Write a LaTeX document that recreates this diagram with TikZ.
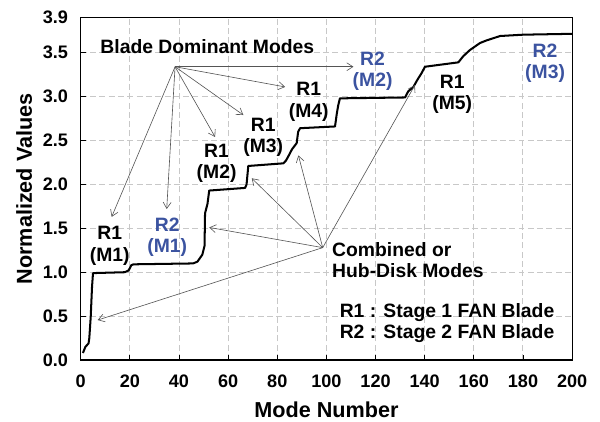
\documentclass[tikz,border=0pt]{standalone}
\usepackage{fontspec}
\setmainfont{Liberation Sans}
\usepackage{xcolor}
\usetikzlibrary{arrows.meta, positioning, calc}

\definecolor{stagetwo}{RGB}{59,83,160}
\definecolor{gridgray}{RGB}{200,200,200}
\definecolor{pointgray}{RGB}{85,85,85}

\begin{document}
\begin{tikzpicture}[x=0.04914cm, y=1.756cm,
    gridline/.style={gridgray, dash pattern=on 3.4pt off 1.9pt, line width=0.55pt},
    modelabel/.style={font=\fontsize{11}{12}\selectfont\bfseries, align=center, inner sep=0pt},
    ticklabel/.style={font=\fontsize{10.3}{12}\selectfont\bfseries, inner sep=0pt},
    axistitle/.style={font=\fontsize{12.3}{14}\selectfont\bfseries, inner sep=0pt},
    pointer/.style={pointgray, line width=0.35pt, -{Straight Barb[length=3.5pt,width=4.5pt]}}
]
    \useasboundingbox (-32.85,-0.695) rectangle (211.35,4.100);

    % Grid
    \foreach \x in {20,40,...,180}
        \draw [gridline] (\x,0) -- (\x,3.9);
    \foreach \y in {0.5,1.0,...,3.5}
        \draw [gridline] (0,\y) -- (200,\y);

    % Frame and ticks
    \draw [line width=0.7pt] (0,0) rectangle (200,3.9);
    \foreach \x in {20,40,...,180}
        \draw [line width=0.5pt] (\x,0) -- ++(0,0.06);
    \foreach \y in {0.5,1.0,...,3.5}
        \draw [line width=0.5pt] (0,\y) -- ++(2,0);

    % Tick labels
    \foreach \x in {0,20,...,200}
        \node [ticklabel] (xl\x) at (\x,-0.239) {\x};
    \foreach \v [count=\i] in {0.0,0.5,1.0,1.5,2.0,2.5,3.0,3.5,3.9}
        \node [ticklabel, anchor=east] (yl\i) at (-5.05,\v) {\v};

    % Axis titles
    \node [axistitle, anchor=base] (xtitle) at (100,-0.66) {Mode Number};
    \node [axistitle, rotate=90, anchor=base] (ytitle) at (-19.9,1.95) {Normalized Values};

    % Normalized values
    \draw [line width=1.15pt, line join=round] (0.9,0.08) -- (1.9,0.15) -- (3.2,0.19) -- (3.5,0.25)
        -- (4.07,0.49) -- (4.6,0.83) -- (5.0,0.99) -- (17.9,1.0) -- (19.5,1.02) -- (20.6,1.08)
        -- (21.5,1.09) -- (45.7,1.10) -- (47.5,1.12) -- (49.5,1.2) -- (50.4,1.3) -- (50.6,1.67)
        -- (51.6,1.78) -- (52.3,1.93) -- (66.9,1.96) -- (67.5,2.0) -- (68.2,2.21) -- (82.5,2.24)
        -- (83.5,2.27) -- (84.5,2.32) -- (86,2.40) -- (87.9,2.47) -- (88.5,2.6) -- (89.3,2.64)
        -- (103.5,2.66) -- (104.2,2.8) -- (104.8,2.9) -- (105.5,2.98) -- (132,2.99) -- (133.3,3.06)
        -- (135.4,3.11) -- (137,3.19) -- (138.8,3.27) -- (140.1,3.34) -- (153.7,3.39) -- (155.7,3.46)
        -- (158.4,3.53) -- (162.5,3.61) -- (165.2,3.64) -- (170.7,3.69) -- (180.1,3.705) -- (200,3.715);

    % Mode labels
    \node [modelabel] (r1m1) at (11.8,1.30) {R1\\(M1)};
    \node [modelabel, stagetwo] (r2m1) at (35.2,1.40) {R2\\(M1)};
    \node [modelabel] (r1m2) at (55.3,2.24) {R1\\(M2)};
    \node [modelabel] (r1m3) at (74.3,2.54) {R1\\(M3)};
    \node [modelabel] (r1m4) at (92.8,2.94) {R1\\(M4)};
    \node [modelabel, stagetwo] (r2m2) at (118.8,3.29) {R2\\(M2)};
    \node [modelabel] (r1m5) at (151.2,3.03) {R1\\(M5)};
    \node [modelabel, stagetwo] (r2m3) at (189,3.375) {R2\\(M3)};

    % Blade dominant pointers
    \node [modelabel, anchor=base west] (blade) at (7.9,3.493) {Blade Dominant Modes};
    \coordinate (bladefan) at (38.4,3.34);
    \coordinate (bt1) at (12.6,1.63);
    \coordinate (bt2) at (35,1.72);
    \coordinate (bt3) at (54.7,2.54);
    \coordinate (bt4) at (66.2,2.79);
    \coordinate (bt5) at (83.2,3.11);
    \coordinate (bt6) at (111,3.34);
    \foreach \t in {bt1,bt2,bt3,bt4,bt5,bt6}
        \draw [pointer] (bladefan) -- (\t);

    % Combined pointers
    \node [modelabel, align=left, anchor=west] (combined) at (102.2,1.135) {Combined or\\Hub-Disk Modes};
    \coordinate (hubfan) at (98.5,1.28);
    \coordinate (ht1) at (6.9,0.455);
    \coordinate (ht2) at (52.3,1.51);
    \coordinate (ht3) at (69.6,2.07);
    \coordinate (ht4) at (88.6,2.33);
    \coordinate (ht5) at (136,3.13);
    \foreach \t in {ht1,ht2,ht3,ht4,ht5}
        \draw [pointer] (hubfan) -- (\t);

    % Legend
    \node [modelabel, align=left, anchor=west] (legend) at (105.3,0.421) {R1 : Stage 1 FAN Blade\\R2 : Stage 2 FAN Blade};

\end{tikzpicture}
\end{document}
